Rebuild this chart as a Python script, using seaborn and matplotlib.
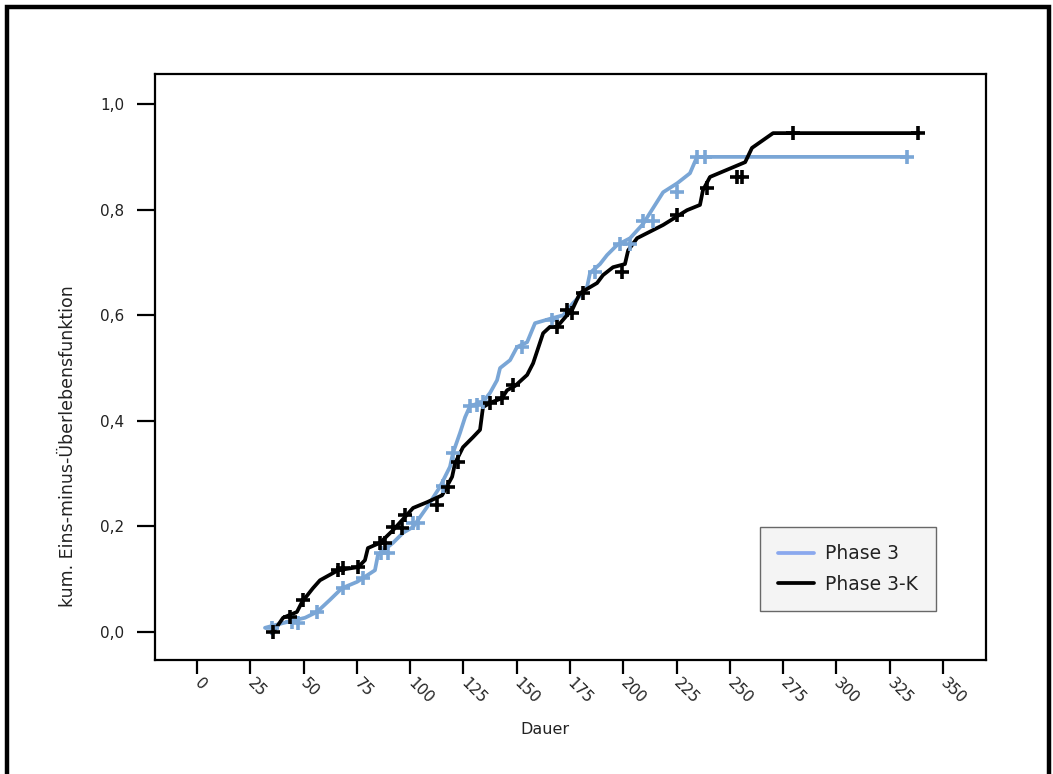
import numpy as np
import pandas as pd
import matplotlib
matplotlib.use("Agg")
import matplotlib.pyplot as plt
from matplotlib.lines import Line2D
from matplotlib.patches import Rectangle
import seaborn as sns

# ---- data ----
series_names = ["Phase 3", "Phase 3-K"]

p3_time = [31.9, 40.4, 50.7, 56.3, 62.4, 68.0, 75.1, 83.5, 84.9, 92.0, 96.7, 101.4,
           108.0, 114.0, 118.7, 120.1, 123.4, 125.8, 128.1, 134.2, 137.5, 140.8,
           142.2, 146.9, 150.2, 154.9, 158.6, 167.1, 171.8, 176.4, 181.1, 183.0,
           184.4, 189.1, 192.4, 197.1, 203.2, 209.3, 218.7, 225.3, 231.3, 234.6, 333.2]
p3_value = [0.008, 0.017, 0.027, 0.038, 0.061, 0.083, 0.095, 0.117, 0.146, 0.169,
            0.188, 0.199, 0.237, 0.275, 0.313, 0.339, 0.377, 0.407, 0.428, 0.436,
            0.453, 0.477, 0.500, 0.515, 0.540, 0.549, 0.585, 0.595, 0.600, 0.623,
            0.642, 0.653, 0.680, 0.697, 0.714, 0.733, 0.746, 0.773, 0.833, 0.850,
            0.869, 0.900, 0.900]

p3_cens_time = [35.2, 44.6, 47.4, 56.3, 68.5, 77.9, 86.3, 89.6, 101.4, 103.7, 115.4,
                120.1, 128.1, 131.4, 134.2, 152.5, 166.6, 186.8, 198.5, 203.2, 209.3,
                214.0, 225.3, 234.6, 238.4, 333.2]
p3_cens_value = [0.008, 0.019, 0.017, 0.038, 0.083, 0.102, 0.150, 0.150, 0.206, 0.206,
                 0.277, 0.339, 0.428, 0.430, 0.436, 0.540, 0.591, 0.682, 0.735, 0.735,
                 0.778, 0.778, 0.833, 0.900, 0.900, 0.900]

p3k_time = [35.7, 38.0, 40.4, 46.9, 49.3, 54.4, 57.7, 66.2, 75.6, 78.8, 80.2, 85.9,
            92.0, 98.5, 101.4, 108.0, 115.0, 119.7, 121.1, 124.8, 129.5, 132.8, 134.2,
            137.5, 143.1, 145.5, 149.2, 154.9, 157.7, 162.4, 165.6, 168.9, 173.6, 176.0,
            179.7, 187.7, 190.5, 195.2, 200.8, 202.3, 206.5, 218.7, 229.9, 236.0, 237.4,
            240.7, 257.2, 260.4, 270.3, 338.3]
p3k_value = [0.000, 0.013, 0.027, 0.038, 0.057, 0.083, 0.098, 0.117, 0.123, 0.136,
             0.159, 0.169, 0.193, 0.222, 0.235, 0.246, 0.259, 0.294, 0.320, 0.350,
             0.369, 0.383, 0.426, 0.434, 0.443, 0.458, 0.466, 0.487, 0.509, 0.566,
             0.578, 0.578, 0.600, 0.610, 0.642, 0.661, 0.676, 0.691, 0.697, 0.723,
             0.746, 0.771, 0.799, 0.809, 0.837, 0.862, 0.890, 0.917, 0.945, 0.945]

p3k_cens_time = [35.7, 43.6, 49.7, 66.2, 68.5, 75.6, 85.9, 88.2, 92.0, 96.2, 97.6,
                 112.6, 117.8, 122.5, 137.5, 143.1, 148.3, 168.9, 173.6, 176.0, 181.1,
                 199.4, 225.3, 239.3, 253.4, 255.7, 279.7, 338.3]
p3k_cens_value = [0.000, 0.028, 0.061, 0.117, 0.121, 0.123, 0.169, 0.169, 0.199, 0.197,
                  0.222, 0.241, 0.275, 0.322, 0.434, 0.443, 0.468, 0.578, 0.610, 0.604,
                  0.642, 0.682, 0.790, 0.841, 0.862, 0.862, 0.945, 0.945]

x_ticks = [0, 25, 50, 75, 100, 125, 150, 175, 200, 225, 250, 275, 300, 325, 350]
y_ticks = [0.0, 0.2, 0.4, 0.6, 0.8, 1.0]
y_tick_labels = ["0,0", "0,2", "0,4", "0,6", "0,8", "1,0"]

# ---- styling ----
sns.set_style("white")
plt.rcParams["font.family"] = ["DejaVu Sans"]

c_p3 = "#7aa6d6"
c_p3_leg = "#8aa8ee"
c_p3k = "#000000"
txt = "#222222"

fig = plt.figure(figsize=(10.53, 7.74), dpi=100)
ax = fig.add_axes([155 / 1053, 1 - 660 / 774, (986 - 155) / 1053, (660 - 74) / 774])

line_df = pd.concat([
    pd.DataFrame({"t": p3_time, "v": p3_value, "s": series_names[0]}),
    pd.DataFrame({"t": p3k_time, "v": p3k_value, "s": series_names[1]}),
])
cens_df = pd.concat([
    pd.DataFrame({"t": p3_cens_time, "v": p3_cens_value, "s": series_names[0]}),
    pd.DataFrame({"t": p3k_cens_time, "v": p3k_cens_value, "s": series_names[1]}),
])
palette = {series_names[0]: c_p3, series_names[1]: c_p3k}

sns.lineplot(data=line_df, x="t", y="v", hue="s", palette=palette, sort=False,
             estimator=None, linewidth=2.7, ax=ax, legend=False)
sns.scatterplot(data=cens_df, x="t", y="v", hue="s", palette=palette, marker="+",
                s=105, linewidth=2.6, ax=ax, legend=False, zorder=3)

ax.set_xlim(-19.7, 370.2)
ax.set_ylim(-0.053, 1.057)
ax.set_xticks(x_ticks)
ax.set_xticklabels([str(v) for v in x_ticks], rotation=-45, ha="left", va="center",
                   rotation_mode="anchor", fontsize=11)
ax.set_yticks(y_ticks)
ax.set_yticklabels(y_tick_labels, fontsize=11)
ax.tick_params(axis="y", direction="out", length=13, width=1.6, pad=9, colors="black",
               labelcolor=txt, left=True)
ax.tick_params(axis="x", direction="out", length=10, width=1.6, pad=5, colors="black",
               labelcolor=txt, bottom=True)
for sp in ax.spines.values():
    sp.set_visible(True)
    sp.set_color("black")
    sp.set_linewidth(1.6)

ax.set_xlabel("")
ax.set_ylabel("kum. Eins-minus-Überlebensfunktion", fontsize=12.5, color=txt)
ax.yaxis.set_label_coords((77 - 155) / 831, (660 - 446) / 586)
fig.text(545 / 1053, 1 - 729 / 774, "Dauer", ha="center", va="center", fontsize=11.5,
         color=txt)

handles = [Line2D([0], [0], color=c_p3_leg, lw=2.7),
           Line2D([0], [0], color=c_p3k, lw=2.7)]
leg = ax.legend(handles, series_names, loc="center",
                bbox_to_anchor=((760 - 155) / 831, (660 - 613) / 586, 176 / 831, 88 / 586),
                frameon=True, fancybox=False, facecolor="#f2f2f2", edgecolor="#444444",
                fontsize=13.5, handlelength=1.9, handletextpad=0.6, labelspacing=0.6,
                borderpad=0.95)
leg.get_frame().set_linewidth(1.0)
for t in leg.get_texts():
    t.set_color(txt)

# outer frame
fig.patches.append(Rectangle((7 / 1053, -0.05), (1049 - 7) / 1053, 1.05 - 7 / 774,
                             transform=fig.transFigure, fill=False, edgecolor="black",
                             linewidth=3.2))

fig.savefig("out.png", dpi=100)
